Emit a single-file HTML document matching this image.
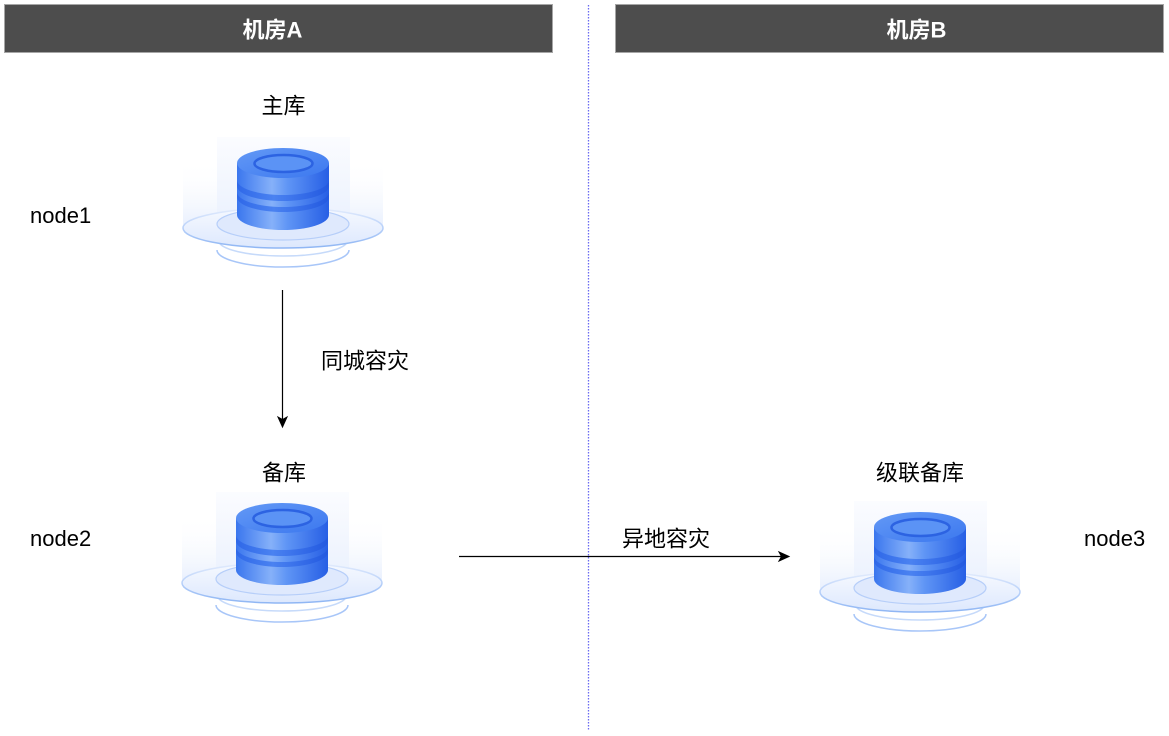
<!DOCTYPE html>
<html>
<head>
<meta charset="utf-8">
<style>
  html,body{margin:0;padding:0;background:#ffffff;}
  body{width:1169px;height:736px;overflow:hidden;}
  svg{display:block;}
  text{font-family:"Liberation Sans","Noto Sans CJK SC",sans-serif;}
</style>
</head>
<body>
<svg width="1169" height="736" viewBox="0 0 1169 736" xmlns="http://www.w3.org/2000/svg">
  <defs>
    <linearGradient id="side" x1="0" y1="0" x2="1" y2="0">
      <stop offset="0" stop-color="#3a76ee"/>
      <stop offset="0.38" stop-color="#86b1f9"/>
      <stop offset="0.55" stop-color="#5f95f5"/>
      <stop offset="1" stop-color="#275fe5"/>
    </linearGradient>
    <linearGradient id="band" x1="0" y1="0" x2="1" y2="0">
      <stop offset="0" stop-color="#2f68e8"/>
      <stop offset="0.4" stop-color="#4a82f1"/>
      <stop offset="1" stop-color="#2359e0"/>
    </linearGradient>
    <linearGradient id="topf" x1="0" y1="0" x2="1" y2="1">
      <stop offset="0" stop-color="#6399f6"/>
      <stop offset="1" stop-color="#3c78ef"/>
    </linearGradient>
    <linearGradient id="bd" x1="0" y1="0" x2="0" y2="1">
      <stop offset="0" stop-color="#fbfcff"/>
      <stop offset="1" stop-color="#e9f0fd"/>
    </linearGradient>
    <linearGradient id="wall" x1="0" y1="0" x2="0" y2="1">
      <stop offset="0" stop-color="#ffffff" stop-opacity="0"/>
      <stop offset="1" stop-color="#e6eefd"/>
    </linearGradient>
    <linearGradient id="outer" x1="0" y1="0" x2="0" y2="1">
      <stop offset="0" stop-color="#f6f9ff"/>
      <stop offset="1" stop-color="#dde8fd"/>
    </linearGradient>
    <linearGradient id="outerStroke" x1="0" y1="0" x2="0" y2="1">
      <stop offset="0" stop-color="#e3ecfd"/>
      <stop offset="0.5" stop-color="#b7d0f9"/>
      <stop offset="1" stop-color="#8fb6f4"/>
    </linearGradient>

    <g id="db">
      <rect x="183" y="160" width="34" height="70" fill="url(#wall)"/>
      <rect x="350" y="160" width="33" height="70" fill="url(#wall)"/>
      <rect x="217" y="137" width="133" height="95" fill="url(#bd)"/>
      <path d="M217,250 A66,17 0 0 0 349,250" fill="none" stroke="#a8c6f8" stroke-width="1.5"/>
      <path d="M219,241 A64,15 0 0 0 347,241" fill="none" stroke="#c6dafa" stroke-width="1.5"/>
      <ellipse cx="283" cy="228" rx="100" ry="20" fill="url(#outer)" stroke="url(#outerStroke)" stroke-width="1.5"/>
      <ellipse cx="283" cy="224" rx="66" ry="16" fill="#dfe9fd" stroke="#b6cef9" stroke-width="1.2"/>
      <path d="M237,163 L237,215 A46,15 0 0 0 329,215 L329,163 Z" fill="url(#side)"/>
      <path d="M237,180 A46,15 0 0 0 329,180 L329,186 A46,15 0 0 1 237,186 Z" fill="url(#band)"/>
      <path d="M237,192 A46,15 0 0 0 329,192 L329,197 A46,15 0 0 1 237,197 Z" fill="url(#band)"/>
      <ellipse cx="283" cy="163" rx="46" ry="15" fill="url(#topf)"/>
      <ellipse cx="283.5" cy="163.5" rx="29" ry="8.5" fill="#5b93f5" stroke="#2c63e2" stroke-width="2.5"/>
    </g>
  </defs>

  <rect x="4.5" y="4.5" width="548" height="48" fill="#4d4d4d" stroke="#a6a6a6" stroke-width="1"/>
  <rect x="615.5" y="4.5" width="548" height="48" fill="#4d4d4d" stroke="#a6a6a6" stroke-width="1"/>
  <text x="272.5" y="30" text-anchor="middle" dominant-baseline="central" font-size="22" font-weight="bold" fill="#ffffff">机房A</text>
  <text x="916.5" y="30" text-anchor="middle" dominant-baseline="central" font-size="22" font-weight="bold" fill="#ffffff">机房B</text>

  <line x1="588.5" y1="5" x2="588.5" y2="731" stroke="#6a6af2" stroke-width="1.3" stroke-dasharray="1.5 1.5"/>

  <use href="#db"/>
  <use href="#db" transform="translate(-1,355)"/>
  <use href="#db" transform="translate(637,364)"/>

  <text x="283.5" y="106" text-anchor="middle" dominant-baseline="central" font-size="22" fill="#000">主库</text>
  <text x="284" y="473" text-anchor="middle" dominant-baseline="central" font-size="22" fill="#000">备库</text>
  <text x="920" y="473" text-anchor="middle" dominant-baseline="central" font-size="22" fill="#000">级联备库</text>
  <text x="365" y="361" text-anchor="middle" dominant-baseline="central" font-size="22" fill="#000">同城容灾</text>
  <text x="666" y="539" text-anchor="middle" dominant-baseline="central" font-size="22" fill="#000">异地容灾</text>

  <text x="30" y="223" font-size="22" fill="#000">node1</text>
  <text x="30" y="546" font-size="22" fill="#000">node2</text>
  <text x="1084" y="546" font-size="22" fill="#000">node3</text>

  <line x1="282.5" y1="290" x2="282.5" y2="420" stroke="#000" stroke-width="1.2"/>
  <path d="M282.5,427 L278,417 L282.5,419.5 L287,417 Z" fill="#000" stroke="#000" stroke-width="1"/>

  <line x1="459" y1="556.5" x2="782" y2="556.5" stroke="#000" stroke-width="1.2"/>
  <path d="M789,556.5 L779,552 L781.5,556.5 L779,561 Z" fill="#000" stroke="#000" stroke-width="1"/>
</svg>
</body>
</html>
